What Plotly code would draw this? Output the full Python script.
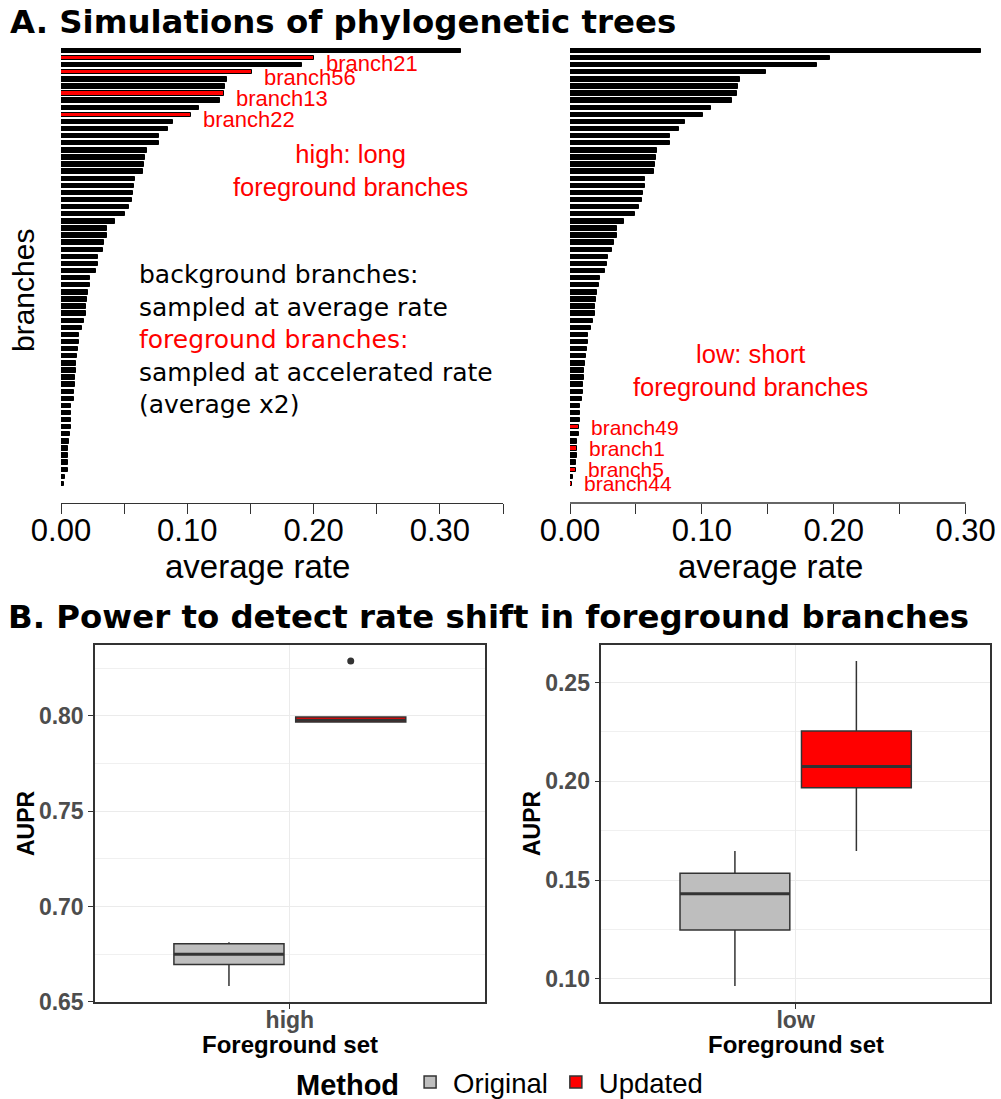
import plotly.graph_objects as go

W, H = 1001, 1099

# ---------------- data ----------------
ranks = list(range(1, 63))  # branches sorted by average rate (1 = fastest)

rates_high = [0.3170, 0.2007, 0.1912, 0.1511, 0.1318, 0.1297, 0.1292, 0.1257, 0.1091, 0.1033,
              0.0890, 0.0848, 0.0777, 0.0774, 0.0679, 0.0668, 0.0658, 0.0652, 0.0586, 0.0581,
              0.0571, 0.0560, 0.0539, 0.0507, 0.0426, 0.0365, 0.0365, 0.0343, 0.0330, 0.0296,
              0.0293, 0.0275, 0.0232, 0.0228, 0.0214, 0.0204, 0.0198, 0.0196, 0.0182, 0.0166,
              0.0145, 0.0140, 0.0137, 0.0124, 0.0119, 0.0116, 0.0113, 0.0109, 0.0105, 0.0101,
              0.0079, 0.0079, 0.0077, 0.0077, 0.0071, 0.0066, 0.0058, 0.0055, 0.0055, 0.0053,
              0.0032, 0.0024]

rates_low = [0.3116, 0.1971, 0.1875, 0.1484, 0.1291, 0.1271, 0.1268, 0.1230, 0.1069, 0.1011,
             0.0870, 0.0826, 0.0756, 0.0756, 0.0660, 0.0652, 0.0642, 0.0637, 0.0571, 0.0566,
             0.0553, 0.0546, 0.0526, 0.0493, 0.0412, 0.0354, 0.0354, 0.0331, 0.0321, 0.0286,
             0.0283, 0.0265, 0.0225, 0.0221, 0.0207, 0.0197, 0.0190, 0.0187, 0.0174, 0.0157,
             0.0139, 0.0136, 0.0131, 0.0121, 0.0114, 0.0109, 0.0106, 0.0101, 0.0099, 0.0093,
             0.0076, 0.0073, 0.0073, 0.0066, 0.0066, 0.0053, 0.0051, 0.0051, 0.0048, 0.0045,
             0.0020, 0.0013]

fg_high_ranks = [2, 4, 7, 10]
fg_high_names = ["branch21", "branch56", "branch13", "branch22"]
fg_low_ranks = [54, 57, 60, 62]
fg_low_names = ["branch49", "branch1", "branch5", "branch44"]

rate_ticks = [0.0, 0.05, 0.10, 0.15, 0.20, 0.25, 0.30, 0.35]
rate_ticklabels = ["0.00", "", "0.10", "", "0.20", "", "0.30", ""]

fg_sets = ["high", "low"]
methods = ["Original", "Updated"]
orig_lo = [0.6582, 0.0963]
orig_q1 = [0.6695, 0.1247]
orig_med = [0.6749, 0.1431]
orig_q3 = [0.6804, 0.1535]
orig_hi = [0.6812, 0.1647]
upd_lo = [0.7968, 0.1647]
upd_q1 = [0.7968, 0.1968]
upd_med = [0.7978, 0.2075]
upd_q3 = [0.7995, 0.2255]
upd_hi = [0.7995, 0.2610]
upd_outliers = [[0.8289], []]

aupr_ticks = [[0.65, 0.70, 0.75, 0.80], [0.10, 0.15, 0.20, 0.25]]
aupr_minor = [[0.675, 0.725, 0.775, 0.825], [0.125, 0.175, 0.225]]

# ---------------- helpers ----------------
def px(x):
    return x / W


def py(y):
    return 1 - y / H


SANS = "Liberation Sans, Arial, sans-serif"
DEJA = "DejaVu Sans, sans-serif"
RED = "#FF0000"
DARK = "#333333"

fig = go.Figure()

# ---------------- panel A bars ----------------
for rates, fg_ranks, xa, ya in [(rates_high, fg_high_ranks, "x", "y"),
                                (rates_low, fg_low_ranks, "x2", "y2")]:
    colors = [RED if r in fg_ranks else "black" for r in ranks]
    fig.add_trace(go.Bar(
        x=rates, y=ranks, orientation="h", width=0.62,
        marker=dict(color=colors, line=dict(color="black", width=1)),
        xaxis=xa, yaxis=ya, showlegend=False, hoverinfo="skip"))

annotations = []
for rank, name in zip(fg_high_ranks, fg_high_names):
    annotations.append(dict(x=rates_high[rank - 1], y=rank, xref="x", yref="y", text=name,
                            showarrow=False, xanchor="left", yanchor="middle",
                            xshift=10, yshift=-5, font=dict(family=SANS, size=22, color=RED)))
for rank, name in zip(fg_low_ranks, fg_low_names):
    annotations.append(dict(x=rates_low[rank - 1], y=rank, xref="x2", yref="y2", text=name,
                            showarrow=False, xanchor="left", yanchor="middle",
                            xshift=10, yshift=0, font=dict(family=SANS, size=21, color=RED)))

# ---------------- panel B boxes ----------------
offsets = [-0.1875, 0.1875]
box_w = 0.339
box_fill = ["#BEBEBE", RED]
stats = [(orig_lo, orig_q1, orig_med, orig_q3, orig_hi),
         (upd_lo, upd_q1, upd_med, upd_q3, upd_hi)]
for i, fs in enumerate(fg_sets):
    xa = "x3" if i == 0 else "x4"
    ya = "y3" if i == 0 else "y4"
    for m, meth in enumerate(methods):
        lo, q1, med, q3, hi = stats[m]
        pos = 1 + offsets[m]
        fig.add_trace(go.Box(
            x=[pos], q1=[q1[i]], median=[med[i]], q3=[q3[i]],
            lowerfence=[lo[i]], upperfence=[hi[i]], width=box_w,
            fillcolor=box_fill[m], line=dict(color=DARK, width=1.5),
            whiskerwidth=0, boxpoints=False, name=meth, legendgroup=meth,
            showlegend=(i == 0), xaxis=xa, yaxis=ya, hoverinfo="skip"))
        # thicker median line, as in ggplot
        fig.add_trace(go.Scatter(
            x=[pos - box_w / 2, pos + box_w / 2], y=[med[i], med[i]], mode="lines",
            line=dict(color=DARK, width=3), showlegend=False, xaxis=xa, yaxis=ya,
            hoverinfo="skip"))
    if upd_outliers[i]:
        fig.add_trace(go.Scatter(
            x=[1 + offsets[1]] * len(upd_outliers[i]), y=upd_outliers[i], mode="markers",
            marker=dict(color=DARK, size=7), showlegend=False, xaxis=xa, yaxis=ya,
            hoverinfo="skip"))

# ---------------- axes ----------------
tickfont_top = dict(family=SANS, size=31, color="black")
top_ydom = [py(503), py(45)]
layout_axes = dict(
    xaxis=dict(domain=[px(61), px(503)], range=[0, 0.35], anchor="y", automargin=False,
               tickvals=rate_ticks, ticktext=rate_ticklabels, ticks="outside",
               ticklen=10, tickwidth=1.3, tickcolor=DARK, showline=True,
               linecolor=DARK, linewidth=1.3, showgrid=False, zeroline=False,
               ticklabelstandoff=-10, tickfont=tickfont_top),
    yaxis=dict(domain=top_ydom, range=[64.68, 0.155], anchor="x", visible=False,
               automargin=False),
    xaxis2=dict(domain=[px(570), px(992)], range=[0, 0.32], anchor="y2", automargin=False,
                tickvals=rate_ticks[:7], ticktext=rate_ticklabels[:7], ticks="outside",
                ticklen=10, tickwidth=1.3, tickcolor=DARK, showline=False,
                showgrid=False, zeroline=False, ticklabelstandoff=-10,
                tickfont=tickfont_top),
    yaxis2=dict(domain=top_ydom, range=[64.68, 0.155], anchor="x2", visible=False,
                automargin=False),
)

b_ydom = [py(1002.3), py(644.7)]
b_ranges = [[0.6497, 0.8374], [0.0881, 0.2692]]
b_xdoms = [[px(95), px(484.7)], [px(601.3), px(990)]]
for i in range(2):
    xk = "xaxis3" if i == 0 else "xaxis4"
    yk = "yaxis3" if i == 0 else "yaxis4"
    xa = "x3" if i == 0 else "x4"
    ya = "y3" if i == 0 else "y4"
    layout_axes[xk] = dict(
        domain=b_xdoms[i], range=[0.4, 1.6], anchor=ya, tickvals=[1], ticktext=[fg_sets[i]],
        automargin=False, ticklabelstandoff=-9,
        ticks="outside", ticklen=5, tickwidth=1.3, tickcolor=DARK, showline=True,
        mirror=True, linecolor=DARK, linewidth=1.5, showgrid=True, gridcolor="#EBEBEB",
        gridwidth=1.3, zeroline=False,
        tickfont=dict(family=SANS, size=23, color="#4D4D4D", weight="bold"))
    layout_axes[yk] = dict(
        domain=b_ydom, range=b_ranges[i], anchor=xa, tickvals=aupr_ticks[i],
        ticktext=["%.2f" % v for v in aupr_ticks[i]], automargin=False,
        ticks="outside", ticklen=5, tickwidth=1.3, tickcolor=DARK, showline=True,
        mirror=True, linecolor=DARK, linewidth=1.5, showgrid=True, gridcolor="#EBEBEB",
        gridwidth=1.3, zeroline=False,
        minor=dict(tickvals=aupr_minor[i], showgrid=True, gridcolor="#F0F0F0",
                   gridwidth=0.8, ticks=""),
        tickfont=dict(family=SANS, size=23, color="#4D4D4D", weight="bold"))

# ---------------- text ----------------
def txt(x, y, text, size, family=SANS, color="black", xanchor="center", angle=0,
        weight="normal", align="center"):
    annotations.append(dict(x=px(x), y=py(y), xref="paper", yref="paper", text=text,
                            showarrow=False, xanchor=xanchor, yanchor="middle",
                            textangle=angle, align=align,
                            font=dict(family=family, size=size, color=color, weight=weight)))

txt(8, 22, "A. Simulations of phylogenetic trees", 32.4, family=DEJA, xanchor="left",
    weight="bold")
txt(6, 617, "B. Power to detect rate shift in foreground branches", 32.4, family=DEJA,
    xanchor="left", weight="bold")
txt(24, 291, "branches", 30, angle=-90)
txt(257, 566, "average rate", 33)
txt(770, 566, "average rate", 33)
txt(350, 171, "high: long<br>foreground branches", 25.5, color=RED)
txt(750, 371, "low: short<br>foreground branches", 25.5, color=RED)
txt(137, 340,
    "background branches:<br>sampled at average rate<br>"
    "<span style='color:#FF0000'>foreground branches:</span><br>"
    "sampled at accelerated rate<br>(average x2)",
    25, family=DEJA, xanchor="left", align="left")
txt(290, 1044, "Foreground set", 24, weight="bold")
txt(796, 1044, "Foreground set", 24, weight="bold")
txt(26, 823, "AUPR", 23, angle=-90, weight="bold")
txt(532, 823, "AUPR", 23, angle=-90, weight="bold")

shapes = [dict(type="line", xref="x2", yref="paper", x0=0, x1=0.30, y0=py(503), y1=py(503),
               line=dict(color=DARK, width=1.3))]

fig.update_layout(
    template="none",
    width=W, height=H, margin=dict(l=0, r=0, t=0, b=0, autoexpand=False),
    paper_bgcolor="white", plot_bgcolor="white",
    bargap=0, boxmode="overlay",
    annotations=annotations, shapes=shapes,
    legend=dict(orientation="h", x=px(294), xanchor="left", y=py(1082), yanchor="middle",
                title=dict(text="Method", font=dict(family=SANS, size=29, weight="bold")),
                font=dict(family=SANS, size=27.5, color="black"), itemwidth=36,
                bgcolor="rgba(0,0,0,0)"),
    **layout_axes,
)

fig.write_html("out.html", config={"displayModeBar": False},
               post_script="document.body.style.margin='0';document.body.style.padding='0';")
